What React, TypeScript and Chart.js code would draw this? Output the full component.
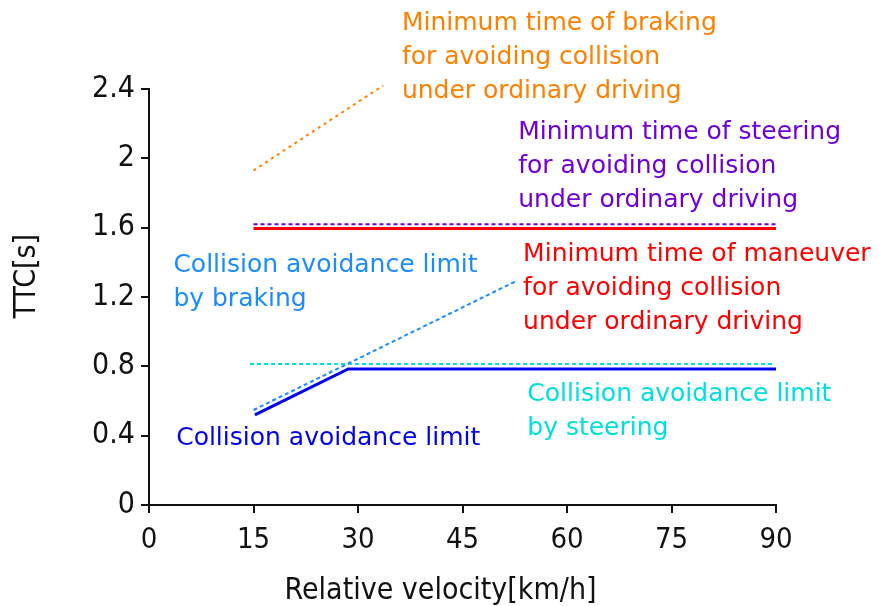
import React, { useEffect, useRef } from "react";
import { Chart, registerables } from "chart.js";

Chart.register(...registerables);

// ---- data ----
const xTicks = [0, 15, 30, 45, 60, 75, 90];
const yTicks = [0, 0.4, 0.8, 1.2, 1.6, 2.0, 2.4];
const yTickLabels = ["0", "0.4", "0.8", "1.2", "1.6", "2", "2.4"];
const xTitle = "Relative velocity[km/h]";
const yTitle = "TTC[s]";

const brakingMinV = [15, 33.6];
const brakingMinTTC = [1.93, 2.42];

const steeringMinV = [15, 90];
const steeringMinTTC = [1.62, 1.62];

const maneuverMinV = [15, 90];
const maneuverMinTTC = [1.595, 1.595];

const limitBrakingV = [15, 52.6];
const limitBrakingTTC = [0.548, 1.29];

const limitSteeringV = [14.5, 89.5];
const limitSteeringTTC = [0.813, 0.813];

const limitV = [15.2, 28.6, 90];
const limitTTC = [0.52, 0.785, 0.785];

// annotation texts (anchored in data coordinates: left x, first-line centre y)
const labelTexts = [
  ["Minimum time of braking", "for avoiding collision", "under ordinary driving"],
  ["Minimum time of steering", "for avoiding collision", "under ordinary driving"],
  ["Minimum time of maneuver", "for avoiding collision", "under ordinary driving"],
  ["Collision avoidance limit", "by braking"],
  ["Collision avoidance limit", "by steering"],
  ["Collision avoidance limit"],
];
const labelX = [36.3, 53.0, 53.7, 3.5, 54.3, 3.9];
const labelY = [2.776, 2.147, 1.443, 1.379, 0.635, 0.381];
const labelColors = ["#ff8000", "#6f00d8", "#ff0000", "#1a8cff", "#00dede", "#0000ee"];

const toPts = (xs: number[], ys: number[]) => xs.map((x, i) => ({ x, y: ys[i] }));

const FONT = "'DejaVu Sans', Verdana, sans-serif";
const CFONT = "'DejaVu Sans Condensed', 'DejaVu Sans', sans-serif";

const textPlugin = {
  id: "textLabels",
  afterDatasetsDraw(chart: any) {
    const ctx = chart.ctx;
    const xs = chart.scales.x;
    const ys = chart.scales.y;
    const area = chart.chartArea;
    ctx.save();
    ctx.font = `25px ${FONT}`;
    ctx.textAlign = "left";
    ctx.textBaseline = "middle";
    labelTexts.forEach((lines, i) => {
      const px = xs.getPixelForValue(labelX[i]);
      const py = ys.getPixelForValue(labelY[i]);
      ctx.fillStyle = labelColors[i];
      lines.forEach((t, j) => ctx.fillText(t, px, py + j * 34));
    });
    // axis titles
    ctx.fillStyle = "#111";
    ctx.font = `30px ${CFONT}`;
    ctx.textAlign = "center";
    ctx.fillText(xTitle, area.left + (area.right - area.left) * 0.465, chart.height - 15);
    ctx.translate(27, area.top + (area.bottom - area.top) * 0.45);
    ctx.rotate(-Math.PI / 2);
    ctx.fillText(yTitle, 0, 0);
    ctx.restore();
  },
};

export default function App() {
  const ref = useRef<HTMLCanvasElement>(null);
  useEffect(() => {
    if (!ref.current) return;
    const ds = (label: string, xs: number[], ys: number[], color: string, width: number, dash: number[]) => ({
      label,
      data: toPts(xs, ys),
      borderColor: color,
      backgroundColor: color,
      borderWidth: width,
      borderDash: dash,
      pointRadius: 0,
      fill: false,
      tension: 0,
      clip: false as any,
    });
    const chart = new Chart(ref.current, {
      type: "line",
      data: {
        datasets: [
          ds("Minimum time of braking", brakingMinV, brakingMinTTC, "#ff8000", 2, [3, 4]),
          ds("Minimum time of maneuver", maneuverMinV, maneuverMinTTC, "#ff0000", 3, []),
          ds("Minimum time of steering", steeringMinV, steeringMinTTC, "#6f00d8", 2, [4, 3]),
          ds("Limit by braking", limitBrakingV, limitBrakingTTC, "#1a8cff", 2, [4, 3]),
          ds("Limit by steering", limitSteeringV, limitSteeringTTC, "#00dede", 2, [4, 3]),
          ds("Collision avoidance limit", limitV, limitTTC, "#0000ee", 3, []),
        ],
      },
      options: {
        responsive: false,
        animation: false,
        layout: { padding: { top: 89, right: 103, left: 0, bottom: 0 } },
        plugins: { legend: { display: false }, tooltip: { enabled: false } },
        scales: {
          x: {
            type: "linear",
            min: 0,
            max: 90,
            afterFit: (s: any) => { s.height = 101; },
            afterBuildTicks: (s: any) => { s.ticks = xTicks.map((v) => ({ value: v })); },
            ticks: {
              color: "#111",
              font: { family: CFONT, size: 29 },
              padding: 10,
              maxRotation: 0,
            },
            grid: { drawOnChartArea: false, tickLength: 8, color: "#111", lineWidth: 2 },
            border: { color: "#111", width: 2 },
          },
          y: {
            type: "linear",
            min: 0,
            max: 2.4,
            afterFit: (s: any) => { s.width = 149; },
            afterBuildTicks: (s: any) => { s.ticks = yTicks.map((v) => ({ value: v })); },
            ticks: {
              color: "#111",
              font: { family: CFONT, size: 30 },
              padding: 6,
              callback: (_v: any, i: number) => yTickLabels[i],
            },
            grid: { drawOnChartArea: false, tickLength: 8, color: "#111", lineWidth: 2 },
            border: { color: "#111", width: 2 },
          },
        },
      },
      plugins: [textPlugin],
    });
    return () => chart.destroy();
  }, []);
  return (
    <div style={{ position: "fixed", left: 0, top: 0, width: 879, height: 606, background: "#fff" }}>
      <canvas ref={ref} width={879} height={606} />
    </div>
  );
}
